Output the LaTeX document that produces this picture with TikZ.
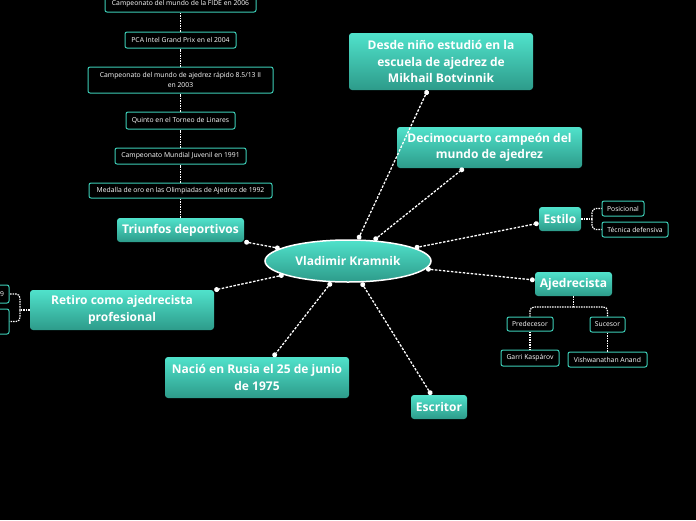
\documentclass[tikz,border=0pt]{standalone}
\usepackage{fontspec}
\setmainfont{Open Sans}
\usepackage{tikz}
\usetikzlibrary{shapes.geometric, arrows.meta}
\definecolor{light}{RGB}{80, 226, 203}
\definecolor{deep}{RGB}{45, 155, 138}
\definecolor{edge}{RGB}{60, 205, 182}
\newcommand*{\hs}{15}

\begin{document}
\begin{tikzpicture}[
   x=1pt, y=-1pt,
   centell/.style={ellipse, top color=light, bottom color=deep, draw=white, line width=1.5,
                   text=white, font=\bfseries\fontsize{12}{14}\selectfont,
                   minimum width=166, minimum height=42, inner sep=0},
   topicrec/.style={rectangle, rounded corners=3, top color=light, bottom color=deep, draw=none,
                    text=white, font=\bfseries\fontsize{12}{16.5}\selectfont,
                    align=center, inner sep=2},
   subrec/.style={rectangle, rounded corners=2, fill=black, draw=edge, line width=1, text=white,
                  font=\fontsize{6.8}{10}\selectfont, align=center, inner sep=2, minimum height=\hs},
   mainlink/.style={draw=white, line width=1.3, dash pattern=on 2.5pt off 1.5pt,
                    {Circle[length=5pt, width=5pt, line width=0pt]}-{Circle[length=5pt, width=5pt, line width=0pt]}},
   sublink/.style={draw=white, line width=1.2, dash pattern=on 1.5pt off 1pt}
  ]

  \useasboundingbox (0,0) rectangle (696,520);
  \clip (0,0) rectangle (696,520);
  \fill[black] (0,0) rectangle (696,520);

  % Central topic and main topics
  \node (vk) at (348,261) [centell] {Vladimir Kramnik};

  \node (desde) at (441,61.5) [topicrec, minimum width=184, minimum height=57]
    {Desde niño estudió en la\\escuela de ajedrez de\\Mikhail Botvinnik};
  \node (decimo) at (489.5,147.5) [topicrec, minimum width=185, minimum height=41]
    {Decimocuarto campeón del\\mundo de ajedrez};
  \node (estilo) at (560,219) [topicrec, minimum width=42, minimum height=24] {Estilo};
  \node (ajedrecista) at (573.5,284) [topicrec, minimum width=77, minimum height=24] {Ajedrecista};
  \node (escritor) at (439,407) [topicrec, minimum width=56, minimum height=24] {Escritor};
  \node (nacio) at (257,377.5) [topicrec, minimum width=184, minimum height=41]
    {Nació en Rusia el 25 de junio\\de 1975};
  \node (retiro) at (122,310) [topicrec, minimum width=184, minimum height=40]
    {Retiro como ajedrecista\\profesional};
  \node (triunfos) at (180.5,230) [topicrec, minimum width=127, minimum height=24] {Triunfos deportivos};

  \foreach \B/\E in {vk/desde, vk/decimo, vk/estilo, vk/ajedrecista, vk/escritor,
                     vk/nacio, vk/retiro, vk/triunfos} {
    \draw[mainlink] (\B) -- (\E);
  }

  % Triunfos deportivos
  \node (fide) at (180.5,4) [subrec, minimum width=151, minimum height=16] {Campeonato del mundo de la FIDE en 2006};
  \node (pca) at (180.5,40) [subrec, minimum width=111, minimum height=16] {PCA Intel Grand Prix en el 2004};
  \node (rapido) at (180.5,80) [subrec, minimum width=185, minimum height=26]
    {Campeonato del mundo de ajedrez rápido 8.5/13 II\\en 2003};
  \node (linares) at (180.5,120.5) [subrec, minimum width=109, minimum height=17] {Quinto en el Torneo de Linares};
  \node (juvenil) at (180.5,156) [subrec, minimum width=131, minimum height=16] {Campeonato Mundial Juvenil en 1991};
  \node (medalla) at (180.5,190.5) [subrec, minimum width=183] {Medalla de oro en las Olimpiadas de Ajedrez de 1992};

  \foreach \B/\E in {triunfos/medalla, medalla/juvenil, juvenil/linares, linares/rapido,
                     rapido/pca, pca/fide} {
    \draw[sublink] (\B) -- (\E);
  }

  % Retiro como ajedrecista profesional
  \node (retA) at (-40,294) [subrec, minimum width=98, minimum height=18, text width=88, align=right] {9};
  \node (retB) at (-40,321.5) [subrec, minimum width=98, minimum height=25] {};
  \coordinate (retJ) at (20,310);
  \draw[sublink] (retiro.west) -- (retJ);
  \draw[sublink, rounded corners=4] (retJ) |- (retA.east);
  \draw[sublink, rounded corners=4] (retJ) |- (retB.east);

  % Estilo
  \node (posicional) at (623,208.5) [subrec, minimum width=42] {Posicional};
  \node (tecnica) at (635,229.5) [subrec, minimum width=66] {Técnica defensiva};
  \coordinate (estJ) at (592,219);
  \draw[sublink] (estilo.east) -- (estJ);
  \draw[sublink, rounded corners=4] (estJ) |- (posicional.west);
  \draw[sublink, rounded corners=4] (estJ) |- (tecnica.west);

  % Ajedrecista
  \node (predecesor) at (530,324) [subrec, minimum width=46, minimum height=14] {Predecesor};
  \node (sucesor) at (607.5,324.5) [subrec, minimum width=35] {Sucesor};
  \node (garri) at (530,358) [subrec, minimum width=58, minimum height=16] {Garri Kaspárov};
  \node (anand) at (607.5,359.5) [subrec, minimum width=79] {Vishwanathan Anand};
  \coordinate (ajJ) at (573.5,307);
  \draw[sublink] (ajedrecista.south) -- (ajJ);
  \draw[sublink, rounded corners=4] (ajJ) -| (predecesor.north);
  \draw[sublink, rounded corners=4] (ajJ) -| (sucesor.north);
  \draw[sublink] (predecesor) -- (garri);
  \draw[sublink] (sucesor) -- (anand);

\end{tikzpicture}
\end{document}
